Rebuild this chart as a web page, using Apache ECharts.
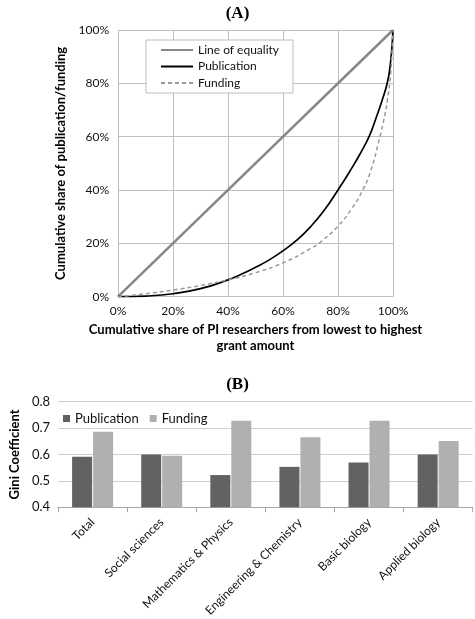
<!DOCTYPE html>
<html><head><meta charset="utf-8">
<script src="https://cdn.jsdelivr.net/npm/echarts@6/dist/echarts.min.js"></script>
<style>html,body{margin:0;padding:0;background:#fff}#c{width:475px;height:619px}</style>
</head><body><div id="c"></div>
<script>
// Panel A: Lorenz curves (x = cumulative share of PI researchers %, y = cumulative share %)
const equalityLine = [[0,0],[100,100]];
const publicationCurve = [[0,0],[10,0.25],[20,1.1],[30,3],[40,6.3],[45,8.5],[50,11],[55,13.8],[60,17.2],[65,21.2],[70,26.2],[75,32.4],[80,40],[85,48.2],[88,53.5],[91.5,60.5],[94,67.5],[96,73.5],[98,80.5],[99,87],[99.6,93.5],[100,100]];
const fundingCurve = [[0,0],[10,1.1],[20,2.5],[30,4.2],[40,6.3],[50,9],[60,12.7],[70,18],[74,20.8],[80,26.5],[85,33],[89,40],[92,47.5],[95,59],[97,68],[98,74],[99,82],[99.6,91],[100,100]];
// Panel B: Gini coefficients
const categories = ['Total','Social sciences','Mathematics & Physics','Engineering & Chemistry','Basic biology','Applied biology'];
const publicationGini = [0.591,0.600,0.522,0.553,0.570,0.600];
const fundingGini = [0.686,0.595,0.728,0.665,0.728,0.651];

const FONT = 'Lato, "Open Sans", sans-serif';
const chart = echarts.init(document.getElementById('c'), null, {renderer:'canvas'});
chart.setOption({
  animation:false,
  backgroundColor:'#fff',
  textStyle:{fontFamily:FONT},
  title:[
    {text:'(A)', left:'center', top:0, textStyle:{fontFamily:'"Liberation Serif", serif', fontWeight:'bold', fontSize:17, color:'#000'}},
    {text:'(B)', left:'center', top:371, textStyle:{fontFamily:'"Liberation Serif", serif', fontWeight:'bold', fontSize:17, color:'#000'}}
  ],
  legend:[
    {data:['Line of equality','Publication','Funding'], orient:'vertical', left:146, top:40,
     borderColor:'#bdbdbd', borderWidth:1, backgroundColor:'#fff', padding:[4,14,4,14],
     itemWidth:32, itemHeight:12, itemGap:4.5, itemStyle:{opacity:0},
     textStyle:{fontFamily:FONT, fontSize:12, color:'#111'}},
    {data:['PublicationB','FundingB'], orient:'horizontal', left:58, top:407,
     icon:'rect', itemWidth:7, itemHeight:7, itemGap:11,
     formatter:n=>n.replace(/B$/,''),
     textStyle:{fontFamily:FONT, fontSize:13, color:'#111'}}
  ],
  grid:[
    {left:118, top:30, width:275, height:266.7},
    {left:42.7, top:401.7, width:430, height:111.6}
  ],
  xAxis:[
    {gridIndex:0, type:'value', min:0, max:100, interval:20,
     axisLine:{show:true, lineStyle:{color:'#bfbfbf'}}, axisTick:{show:false},
     splitLine:{show:true, lineStyle:{color:'#bfbfbf'}},
     axisLabel:{formatter:'{value}%', fontSize:12, color:'#111', margin:8, fontFamily:FONT},
     name:'Cumulative share of PI researchers from lowest to highest\ngrant amount',
     nameLocation:'middle', nameGap:25,
     nameTextStyle:{fontFamily:FONT, fontWeight:'bold', fontSize:13, color:'#000', lineHeight:16}},
    {gridIndex:1, type:'category', data:categories,
     axisLine:{show:true, lineStyle:{color:'#a6a6a6'}},
     axisTick:{show:true, length:5, lineStyle:{color:'#a6a6a6'}},
     axisLabel:{rotate:45, fontSize:12, color:'#111', margin:13, fontFamily:FONT, interval:0}}
  ],
  yAxis:[
    {gridIndex:0, type:'value', min:0, max:100, interval:20,
     axisLine:{show:false}, axisTick:{show:false},
     splitLine:{show:true, lineStyle:{color:'#bfbfbf'}},
     axisLabel:{formatter:'{value}%', fontSize:12, color:'#111', margin:9, fontFamily:FONT},
     name:'Cumulative share of publication/funding', nameLocation:'middle', nameGap:35,
     nameTextStyle:{fontFamily:FONT, fontWeight:'bold', fontSize:13, color:'#000'}},
    {gridIndex:1, type:'value', min:0.4, max:0.8, interval:0.1,
     axisLine:{show:false}, axisTick:{show:false},
     splitLine:{show:true, lineStyle:{color:'#cfcfcf'}},
     axisLabel:{formatter:v=>v.toFixed(1), fontSize:13, color:'#111', margin:8, fontFamily:FONT},
     name:'Gini Coefficient', nameLocation:'middle', nameGap:27,
     nameTextStyle:{fontFamily:FONT, fontWeight:'bold', fontSize:13, color:'#000'}}
  ],
  series:[
    {name:'Line of equality', type:'line', xAxisIndex:0, yAxisIndex:0, data:equalityLine,
     symbol:'none', lineStyle:{color:'#888888', width:2.5}, itemStyle:{color:'#888888'}},
    {name:'Publication', type:'line', xAxisIndex:0, yAxisIndex:0, data:publicationCurve,
     symbol:'none', smooth:0.5, lineStyle:{color:'#000', width:1.7}, itemStyle:{color:'#000'}},
    {name:'Funding', type:'line', xAxisIndex:0, yAxisIndex:0, data:fundingCurve,
     symbol:'none', smooth:0.5, lineStyle:{color:'#999', width:1.5, type:[4,3]}, itemStyle:{color:'#999'}},
    {name:'PublicationB', type:'bar', xAxisIndex:1, yAxisIndex:1, data:publicationGini,
     barWidth:20, barGap:'5%', itemStyle:{color:'#626262'}},
    {name:'FundingB', type:'bar', xAxisIndex:1, yAxisIndex:1, data:fundingGini,
     barWidth:20, barGap:'5%', itemStyle:{color:'#b0b0b0'}}
  ]
});
</script></body></html>
